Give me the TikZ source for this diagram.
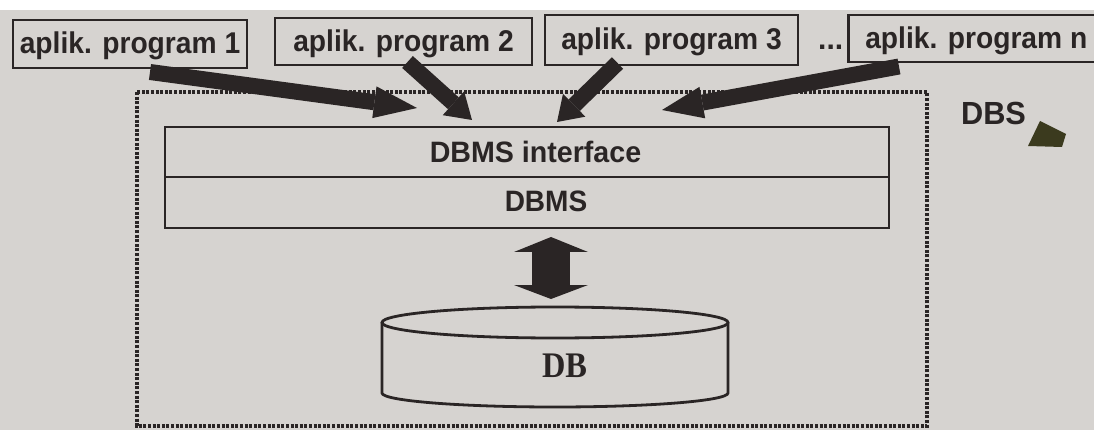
\documentclass[tikz,border=0pt]{standalone}
\usepackage{fontspec}
\usepackage{graphicx}
\usetikzlibrary{arrows.meta,calc}
\newfontfamily\sansf{Liberation Sans}
\newfontfamily\seriff{Liberation Serif}
\definecolor{paper}{HTML}{D6D3D0}
\definecolor{inkc}{HTML}{2A2525}
\definecolor{blobc}{HTML}{3B3A1E}
\newcommand\hsq[2]{\scalebox{#1}[1]{#2}}
\tikzset{
  ink/.style={draw=inkc, line width=2.6pt},
  appbox/.style={ink, inner sep=0pt, text=inkc, font=\sansf\bfseries\fontsize{30}{36}\selectfont, text height=22pt, text depth=2pt},
  bandbox/.style={ink, line width=2.8pt, inner sep=0pt, minimum width=724pt},
  sanslbl/.style={inner sep=0pt, text=inkc, font=\sansf\bfseries\fontsize{29.5}{34}\selectfont},
  dblbl/.style={inner sep=0pt, text=inkc, font=\seriff\bfseries\fontsize{36}{40}\selectfont},
  fatarrow/.style={draw=inkc, line width=16pt, -{Triangle[length=#1, width=32pt, line width=0pt]}},
  dotframe/.style={draw=inkc, line width=3.2pt, dash pattern=on 3pt off 1.6pt},
}
\begin{document}
\begin{tikzpicture}[x=1pt,y=-1pt]
\useasboundingbox (0,0) rectangle (1094,430);
\fill[paper] (0,0) rectangle (1094,430);
\fill[white] (0,0) rectangle (1094,10);

% DBS frame
\draw[dotframe] (137,92) rectangle (927,426);

% application boxes
\node[appbox, minimum width=234pt, minimum height=48pt] (b1) at (130,44) {\hsq{0.94}{aplik. program 1}};
\node[appbox, minimum width=257pt, minimum height=47pt] (b2) at (403.5,41.5) {\hsq{0.94}{aplik. program 2}};
\node[appbox, minimum width=253pt, minimum height=50pt] (b3) at (671.5,40) {\hsq{0.94}{aplik. program 3}};
\node[appbox, anchor=west, inner xsep=17pt, minimum height=47pt] (bn) at (847,38.5) {\hsq{0.94}{aplik. program n}};
\node[sanslbl, anchor=base west, font=\sansf\bfseries\fontsize{30}{36}\selectfont] (dots) at (818,50) {...};

% DBMS band
\node[bandbox, minimum height=50pt] (iface) at (527,152) {};
\node[bandbox, minimum height=51pt] (dbms) at (527,202.5) {};
\node[sanslbl, anchor=base] (ifacetxt) at (535.5,163) {\hsq{0.97}{DBMS interface}};
\node[sanslbl, anchor=base] (dbmstxt) at (546,212) {\hsq{0.95}{DBMS}};

% arrows from programs to the interface
\coordinate (t1) at (150,72);    \coordinate (h1) at (417,108);
\coordinate (t2) at (407.5,62);  \coordinate (h2) at (472,120);
\coordinate (t3) at (617.5,63);  \coordinate (h3) at (557,122);
\coordinate (tn) at (899,66.5);  \coordinate (hn) at (662,110);
\draw[fatarrow=43pt] (t1) -- (h1);
\draw[fatarrow=25pt] (t2) -- (h2);
\draw[fatarrow=24pt] (t3) -- (h3);
\draw[fatarrow=41pt] (tn) -- (hn);

% double arrow DBMS <-> DB
\coordinate (da) at (551,237);
\coordinate (db) at (551,299);
\draw[draw=inkc, line width=38pt, {Triangle[length=15pt, width=74pt, line width=0pt]}-{Triangle[length=14pt, width=74pt, line width=0pt]}] (da) -- (db);

% database cylinder
\draw[ink, line width=2.8pt] (382,322.5) -- (382,393) arc[start angle=180, end angle=0, x radius=173, y radius=14] -- (728,322.5);
\draw[ink, line width=2.8pt] (555,322.5) ellipse[x radius=173, y radius=15.5];
\node[dblbl, anchor=base] (dbtxt) at (564.5,377) {\hsq{0.9}{DB}};

% DBS label and mark
\node[sanslbl, anchor=base, font=\sansf\bfseries\fontsize{32}{36}\selectfont] (dbs) at (993.5,125) {\hsq{0.96}{DBS}};
\fill[blobc] (1040,121) -- (1066,134) -- (1062,147) -- (1028,146) -- cycle;
\end{tikzpicture}
\end{document}
